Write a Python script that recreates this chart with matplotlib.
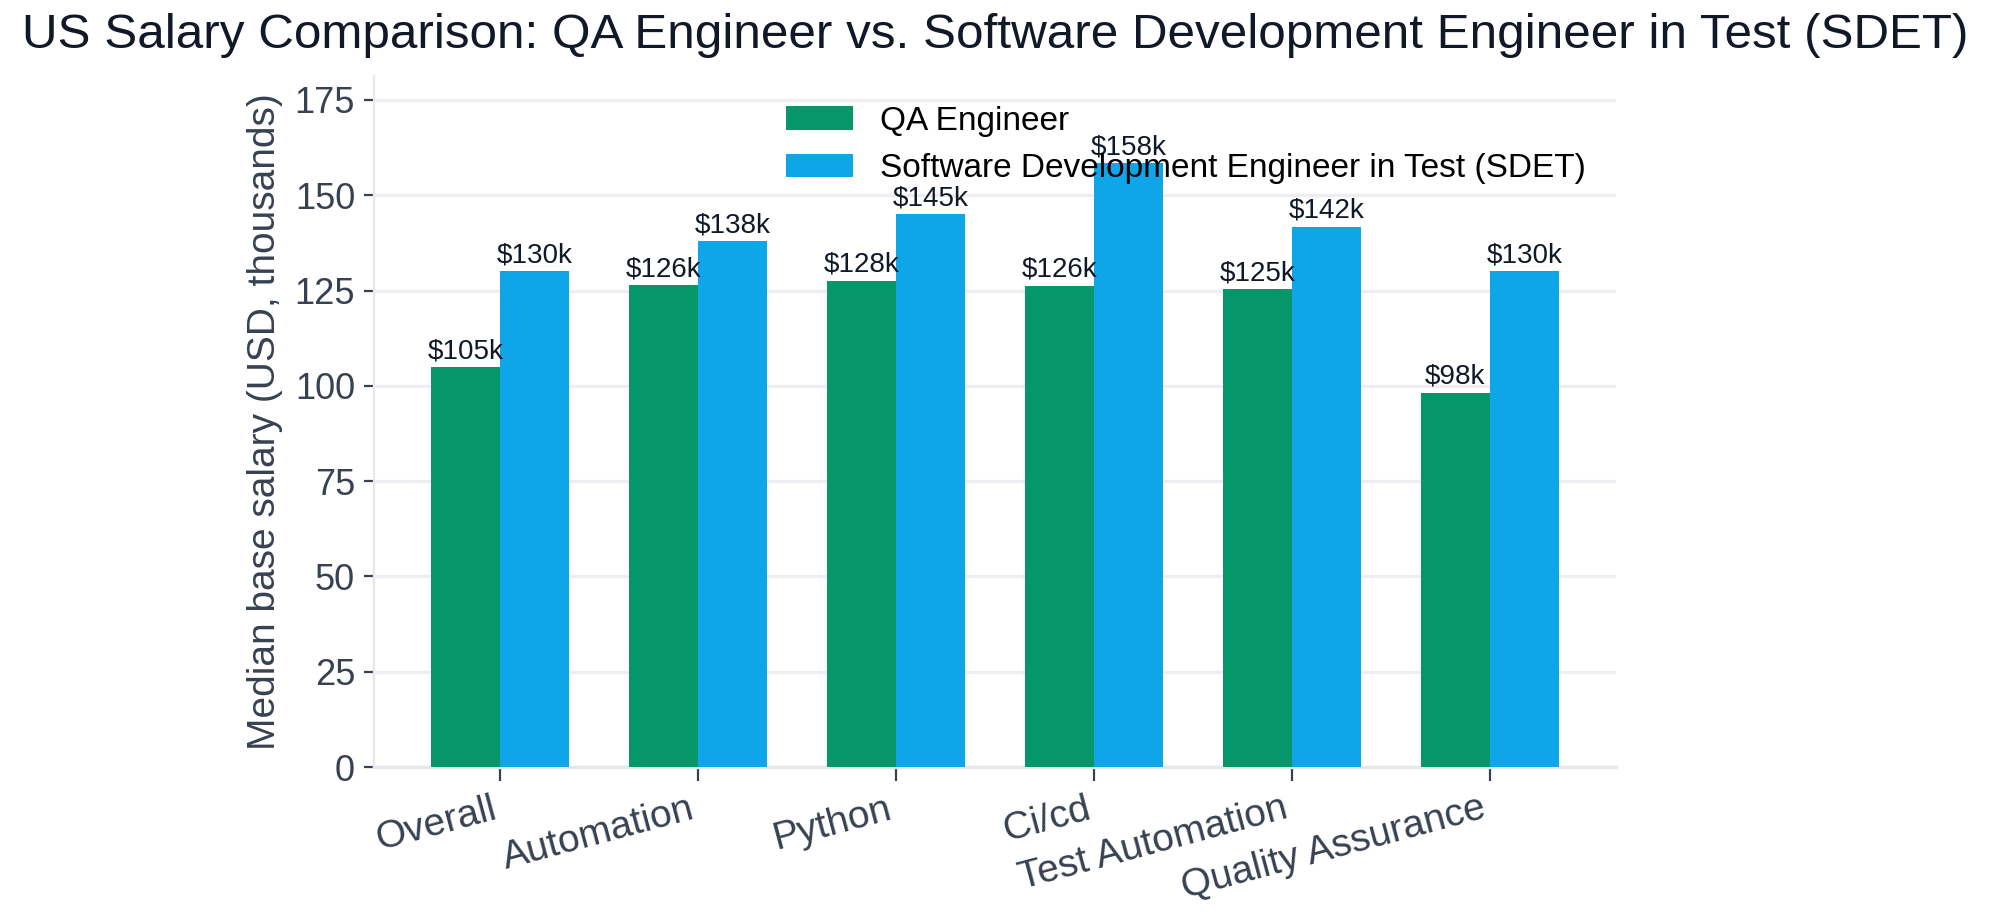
import numpy as np
import matplotlib.pyplot as plt

plt.rcParams['font.family'] = ['Liberation Sans', 'DejaVu Sans']

categories = ['Overall', 'Automation', 'Python', 'Ci/cd', 'Test Automation', 'Quality Assurance']
qa_values = [105.0, 126.4, 127.6, 126.3, 125.3, 98.2]
sdet_values = [130.0, 137.9, 145.0, 158.4, 141.8, 130.0]
series_names = ['QA Engineer', 'Software Development Engineer in Test (SDET)']

green = '#059669'
blue = '#0ea5e9'
text_dark = '#111827'
text_gray = '#374151'

fig = plt.figure(figsize=(9.96, 4.615), dpi=200)
ax = fig.add_axes([0.188, 0.169, 0.623, 0.749])

x = np.arange(len(categories))
width = 0.35
bars_qa = ax.bar(x - width / 2, qa_values, width, color=green, label=series_names[0], zorder=3)
bars_sdet = ax.bar(x + width / 2, sdet_values, width, color=blue, label=series_names[1], zorder=3)

# value labels on top of the bars
for bars in (bars_qa, bars_sdet):
    ax.bar_label(bars, labels=[f'${v:.0f}k' for v in bars.datavalues],
                 fontsize=10, color=text_dark, padding=1)

ax.set_ylim(0, max(sdet_values) * 1.145)
ax.set_xticks(x)
ax.set_xticklabels(categories, rotation=15, ha='right', fontsize=14, color=text_gray)
ax.tick_params(axis='y', labelsize=13, labelcolor=text_gray, color=text_gray)
ax.tick_params(axis='x', color=text_gray, length=5)
ax.set_ylabel('Median base salary (USD, thousands)', fontsize=14, color=text_gray)
ax.set_title('US Salary Comparison: QA Engineer vs. Software Development Engineer in Test (SDET)',
             fontsize=17.8, color=text_dark, pad=10)

ax.grid(axis='y', color='#eeeef2', linewidth=1.2, zorder=0)
ax.spines['top'].set_visible(False)
ax.spines['right'].set_visible(False)
ax.spines['left'].set_color('#e5e7eb')
ax.spines['bottom'].set_color('#e5e7eb')
ax.spines['bottom'].set_linewidth(1.2)

ax.legend(loc='upper right', frameon=False, fontsize=12)

plt.savefig('out.png', dpi=200)
